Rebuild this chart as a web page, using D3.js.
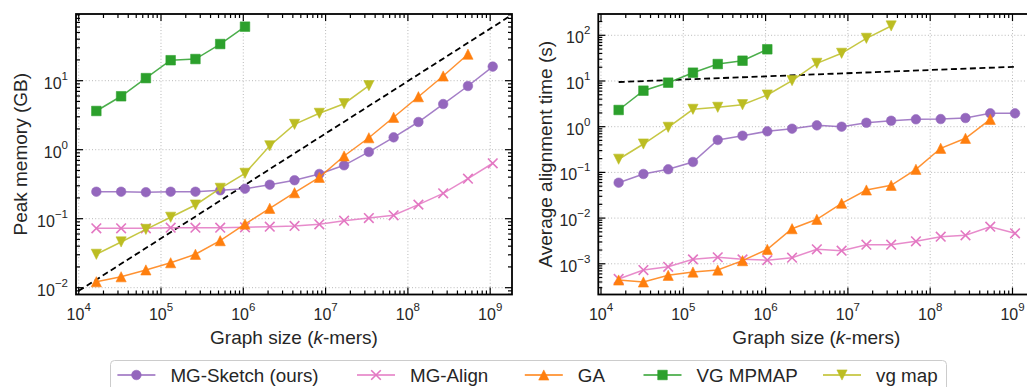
<!DOCTYPE html>
<html>
<head>
<meta charset="utf-8">
<script src="https://cdn.jsdelivr.net/npm/d3@7"></script>
<style>
  body { margin: 0; background: #fff; }
  text { font-family: "Liberation Sans", Arial, sans-serif; fill: #262626; }
</style>
</head>
<body>
<div id="chart"></div>
<script>
// graph sizes in k-mers (2^14 ... 2^30)
const graphSizes = [16384, 32768, 65536, 131072, 262144, 524288, 1048576, 2097152, 4194304,
  8388608, 16777216, 33554432, 67108864, 134217728, 268435456, 536870912, 1073741824];

const seriesNames = ["MG-Sketch (ours)", "MG-Align", "GA", "VG MPMAP", "vg map"];
const seriesColors = ["#9467bd", "#e377c2", "#ff7f0e", "#2ca02c", "#bcbd22"];
const seriesMarkers = ["circle", "x", "tri-up", "square", "tri-down"];

// peak memory (GB)
const memSketch = [0.246, 0.246, 0.242, 0.246, 0.246, 0.258, 0.272, 0.311, 0.361, 0.445, 0.594, 0.927, 1.51, 2.52, 4.59, 8.38, 16.0];
const memAlign = [0.0726, 0.0726, 0.0726, 0.0741, 0.0741, 0.0741, 0.075, 0.0766, 0.0784, 0.083, 0.0935, 0.102, 0.112, 0.160, 0.233, 0.380, 0.636];
const memGA = [0.0122, 0.0144, 0.0181, 0.0230, 0.0305, 0.048, 0.0837, 0.1415, 0.238, 0.398, 0.811, 1.49, 2.95, 5.86, 11.7, 24.2];
const memMpmap = [3.64, 5.95, 10.9, 19.8, 20.6, 34, 60.7];
const memVgmap = [0.0305, 0.046, 0.070, 0.105, 0.158, 0.276, 0.455, 1.14, 2.33, 3.37, 4.64, 8.47];
const memRef = [[1e4, 0.009], [1.74e9, 86.5]];

// average alignment time (s)
const timeSketch = [0.0595, 0.0923, 0.117, 0.169, 0.512, 0.635, 0.793, 0.904, 1.07, 1.0, 1.22, 1.35, 1.45, 1.47, 1.55, 1.96, 1.96];
const timeAlign = [4.65e-4, 7.3e-4, 8.6e-4, 1.25e-3, 1.39e-3, 1.25e-3, 1.2e-3, 1.36e-3, 2.07e-3, 1.93e-3, 2.62e-3, 2.62e-3, 3.1e-3, 3.92e-3, 4.2e-3, 6.49e-3, 4.65e-3];
const timeGA = [4.42e-4, 4.0e-4, 5.6e-4, 6.6e-4, 7.3e-4, 1.17e-3, 2.07e-3, 5.86e-3, 9.4e-3, 0.0211, 0.0412, 0.0522, 0.117, 0.337, 0.557, 1.45];
const timeMpmap = [2.32, 6.14, 9.19, 15.2, 23.5, 27.8, 49.4];
const timeVgmap = [0.194, 0.418, 0.970, 2.40, 2.66, 3.03, 4.94, 10.2, 24.4, 40.4, 85.9, 160];
const timeRef = [[16384, 9.5], [1073741824, 20.5]];

const xTickExps = [4, 5, 6, 7, 8, 9];

const W = 1027, H = 387;
const svg = d3.select("#chart").append("svg").attr("width", W).attr("height", H);
svg.append("rect").attr("width", W).attr("height", H).attr("fill", "#fff");

function markerPath(kind) {
  const s = 4.8;
  if (kind === "circle") return d3.symbol(d3.symbolCircle, Math.PI * s * s)();
  if (kind === "square") return `M${-s},${-s}H${s}V${s}H${-s}Z`;
  if (kind === "tri-up") return `M0,${-s - 0.3}L${s + 0.3},${s + 0.3}L${-s - 0.3},${s + 0.3}Z`;
  if (kind === "tri-down") return `M0,${s + 0.3}L${s + 0.3},${-s - 0.3}L${-s - 0.3},${-s - 0.3}Z`;
  return `M${-s},${-s}L${s},${s}M${-s},${s}L${s},${-s}`;
}

function drawMarker(g, kind, color, x, y) {
  const p = g.append("path").attr("d", markerPath(kind)).attr("transform", `translate(${x},${y})`);
  if (kind === "x") p.attr("fill", "none").attr("stroke", color).attr("stroke-width", 1.6);
  else p.attr("fill", color).attr("stroke", color).attr("stroke-opacity", 0.55).attr("stroke-width", 1);
}

function supLabel(sel, exp) {
  sel.append("tspan").text("10");
  sel.append("tspan").attr("dy", -9).attr("font-size", 11.5).text(exp < 0 ? "\u2212" + (-exp) : exp);
}

function drawPanel(id, box, yDomain, yTickExps, yLabel, yLabelX, series, ref) {
  const x = d3.scaleLog().domain([Math.pow(10, 3.9672), Math.pow(10, 9.265)]).range([box.x0, box.x1]);
  const y = d3.scaleLog().domain(yDomain).range([box.y1, box.y0]);
  const g = svg.append("g");

  svg.append("clipPath").attr("id", id).append("rect")
    .attr("x", box.x0).attr("y", box.y0).attr("width", box.x1 - box.x0).attr("height", box.y1 - box.y0);

  // grid
  const grid = g.append("g").attr("stroke", "#b8b8b8").attr("stroke-width", 1).attr("stroke-dasharray", "1,2.2");
  xTickExps.forEach(e => {
    const px = x(Math.pow(10, e));
    grid.append("line").attr("x1", px).attr("x2", px).attr("y1", box.y0).attr("y2", box.y1);
  });
  yTickExps.forEach(e => {
    const py = y(Math.pow(10, e));
    grid.append("line").attr("x1", box.x0).attr("x2", box.x1).attr("y1", py).attr("y2", py);
  });

  // reference dashed line
  g.append("path").attr("clip-path", `url(#${id})`)
    .attr("d", d3.line().x(d => x(d[0])).y(d => y(d[1]))(ref))
    .attr("fill", "none").attr("stroke", "#000").attr("stroke-width", 1.8).attr("stroke-dasharray", "6,3.5");

  // series
  series.forEach((vals, i) => {
    const pts = vals.map((v, j) => [graphSizes[j], v]);
    g.append("path").attr("d", d3.line().x(d => x(d[0])).y(d => y(d[1]))(pts))
      .attr("fill", "none").attr("stroke", seriesColors[i]).attr("stroke-opacity", 0.85).attr("stroke-width", 1.5);
    const mg = g.append("g");
    pts.forEach(d => drawMarker(mg, seriesMarkers[i], seriesColors[i], x(d[0]), y(d[1])));
  });

  // ticks (inward, all four sides)
  const tk = g.append("g").attr("stroke", "#000").attr("stroke-width", 1.2);
  const minorVals = (lo, hi) => {
    const out = [];
    for (let k = Math.floor(Math.log10(lo)); k <= Math.ceil(Math.log10(hi)); k++)
      for (let m = 2; m <= 9; m++) { const v = m * Math.pow(10, k); if (v > lo && v < hi) out.push(v); }
    return out;
  };
  const xd = x.domain(), yd = y.domain();
  const xt = xTickExps.map(e => [Math.pow(10, e), 7]).concat(minorVals(xd[0], xd[1]).map(v => [v, 4]));
  const yt = yTickExps.map(e => [Math.pow(10, e), 7]).concat(minorVals(yd[0], yd[1]).map(v => [v, 4]));
  xt.forEach(([v, len]) => {
    const px = x(v);
    tk.append("line").attr("x1", px).attr("x2", px).attr("y1", box.y1).attr("y2", box.y1 - len);
    tk.append("line").attr("x1", px).attr("x2", px).attr("y1", box.y0).attr("y2", box.y0 + len);
  });
  yt.forEach(([v, len]) => {
    const py = y(v);
    tk.append("line").attr("x1", box.x0).attr("x2", box.x0 + len).attr("y1", py).attr("y2", py);
    tk.append("line").attr("x1", box.x1).attr("x2", box.x1 - len).attr("y1", py).attr("y2", py);
  });

  // frame
  g.append("rect").attr("x", box.x0).attr("y", box.y0).attr("width", box.x1 - box.x0).attr("height", box.y1 - box.y0)
    .attr("fill", "none").attr("stroke", "#000").attr("stroke-width", 1.8);

  // tick labels
  xTickExps.forEach(e => {
    const t = g.append("text").attr("x", x(Math.pow(10, e))).attr("y", box.y1 + 25.5)
      .attr("text-anchor", "middle").attr("font-size", 16);
    supLabel(t, e);
  });
  yTickExps.forEach(e => {
    const t = g.append("text").attr("x", box.x0 - 8).attr("y", y(Math.pow(10, e)) + 8)
      .attr("text-anchor", "end").attr("font-size", 16);
    supLabel(t, e);
  });

  // axis labels
  const xl = g.append("text").attr("x", (box.x0 + box.x1) / 2)
    .attr("y", 344).attr("text-anchor", "middle").attr("font-size", 19);
  xl.append("tspan").text("Graph size (");
  xl.append("tspan").attr("font-style", "italic").text("k");
  xl.append("tspan").text("-mers)");
  g.append("text").attr("transform", `translate(${yLabelX},${(box.y0 + box.y1) / 2}) rotate(-90)`)
    .attr("text-anchor", "middle").attr("font-size", 19).text(yLabel);
}

drawPanel("clipL", { x0: 76, x1: 512, y0: 14, y1: 294.5 }, [Math.pow(10, -2.0986), Math.pow(10, 1.9667)],
  [-2, -1, 0, 1], "Peak memory (GB)", 26.5,
  [memSketch, memAlign, memGA, memMpmap, memVgmap], memRef);

drawPanel("clipR", { x0: 598.3, x1: 1034.3, y0: 14, y1: 294.5 }, [Math.pow(10, -3.672), Math.pow(10, 2.466)],
  [-3, -2, -1, 0, 1, 2], "Average alignment time (s)", 551.5,
  [timeSketch, timeAlign, timeGA, timeMpmap, timeVgmap], timeRef);

// legend
const legendX = [117.4, 357, 524.8, 643.5, 823];
const leg = svg.append("g");
leg.append("rect").attr("x", 110.5).attr("y", 360.5).attr("width", 836).attr("height", 40).attr("rx", 4)
  .attr("fill", "#fff").attr("fill-opacity", 0.8).attr("stroke", "#cccccc").attr("stroke-width", 1);
seriesNames.forEach((name, i) => {
  const lx = legendX[i], ly = 375;
  leg.append("line").attr("x1", lx).attr("x2", lx + 38).attr("y1", ly).attr("y2", ly)
    .attr("stroke", seriesColors[i]).attr("stroke-width", 1.5);
  drawMarker(leg, seriesMarkers[i], seriesColors[i], lx + 19, ly);
  leg.append("text").attr("x", lx + 53).attr("y", ly + 6.5).attr("font-size", 18.8).text(name);
});
</script>
</body>
</html>
